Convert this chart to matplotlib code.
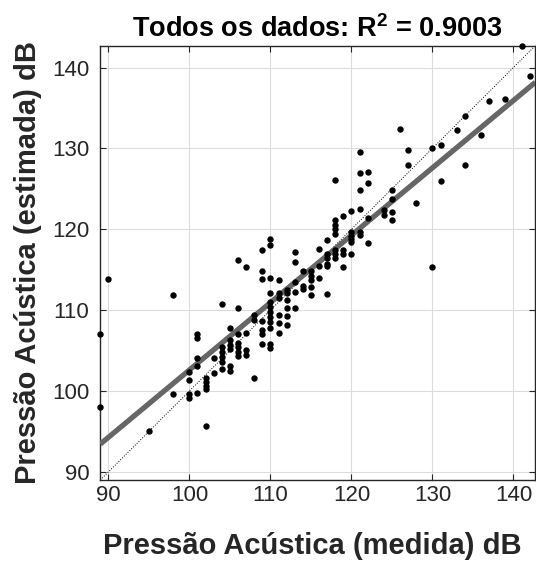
import matplotlib
matplotlib.use("Agg")
import matplotlib.pyplot as plt
from matplotlib import font_manager as fm
import numpy as np

fm.fontManager.ttflist = [f for f in fm.fontManager.ttflist if 'Narrow' not in f.fname]

plt.rcParams['font.family'] = ['Liberation Sans', 'DejaVu Sans']
plt.rcParams['mathtext.fontset'] = 'custom'
plt.rcParams['mathtext.rm'] = 'Liberation Sans'
plt.rcParams['mathtext.bf'] = 'Liberation Sans:bold'

# measured (x) and estimated (y) acoustic pressure, dB
x_medida = [89, 89, 90, 95, 98, 98,
            100, 100, 100, 100,
            101, 101, 101, 101, 101,
            102, 102, 102, 102, 102,
            103, 103,
            104, 104, 104, 104, 104, 104,
            105, 105, 105, 105, 105, 105,
            106, 106, 106, 106, 106, 106, 106,
            107, 107, 107, 107,
            108, 108, 108,
            109, 109, 109, 109, 109, 109, 109,
            110, 110, 110, 110, 110, 110, 110, 110, 110, 110, 110, 110,
            111, 111, 111, 111, 111, 111,
            112, 112, 112, 112, 112, 112,
            113, 113, 113, 113, 113,
            114, 114, 114,
            115, 115, 115, 115, 115,
            116, 116, 116,
            117, 117, 117, 117, 117, 117,
            118, 118, 118, 118, 118, 118, 118, 118,
            119, 119, 119, 119,
            120, 120, 120, 120, 120, 120,
            121, 121, 121, 121, 121, 121,
            122, 122, 122, 122,
            124, 124,
            125, 125, 125, 125,
            126, 127, 127, 128, 130, 130, 131, 131,
            133, 134, 134, 136, 137, 139, 141, 142]
y_estimada = [107.0, 98.0, 113.9, 95.1, 111.85, 99.6,
              102.3, 101.4, 99.6, 99.1,
              107.0, 106.5, 104.1, 103.1, 99.75,
              101.6, 101.1, 100.6, 100.2, 95.7,
              104.1, 102.2,
              110.7, 105.4, 104.8, 104.2, 103.6, 102.75,
              107.85, 106.25, 105.7, 105.2, 103.1, 102.5,
              116.2, 110.3, 107.0, 105.9, 105.4, 104.8, 104.3,
              115.3, 107.2, 105.1, 104.5,
              109.4, 108.8, 101.65,
              117.4, 114.8, 113.9, 108.6, 107.6, 107.1, 105.85,
              118.75, 118.0, 114.0, 112.1, 111.0, 110.4, 109.75, 109.15, 108.5, 107.85, 105.85, 105.3,
              113.7, 112.1, 111.5, 109.4, 108.4, 107.2,
              112.5, 112.1, 111.3, 110.3, 109.3, 108.2,
              117.2, 116.0, 113.5, 112.3, 110.3,
              114.9, 113.0, 112.6,
              114.8, 114.2, 113.7, 112.9, 111.9,
              117.5, 115.4, 113.95,
              118.7, 117.0, 116.4, 115.7, 115.4, 111.95,
              126.1, 121.1, 120.5, 120.0, 119.4, 117.4, 116.9, 116.4,
              121.6, 117.4, 117.0, 115.3,
              122.3, 119.7, 119.2, 118.8, 118.4, 117.0,
              129.5, 127.0, 124.9, 122.5, 119.6, 119.3,
              127.1, 125.7, 121.4, 118.3,
              122.4, 121.8,
              124.8, 123.7, 122.1, 121.2,
              132.4, 129.8, 128.0, 123.2, 130.0, 115.3, 130.4, 126.0,
              132.3, 134.0, 128.0, 131.6, 135.9, 136.1, 142.7, 138.9]

# linear fit
fit_slope = 0.833
fit_intercept = 19.3
r2 = 0.9003

axis_limits = [89, 142.7]
tick_values = [90, 100, 110, 120, 130, 140]

fig = plt.figure(figsize=(5.36, 5.61), dpi=100)
ax = fig.add_axes([0.1871, 0.1444, 0.8116, 0.7742])

lims = np.array(axis_limits)
ax.plot(lims, lims, linestyle=':', color='black', linewidth=0.7, zorder=2)
ax.plot(lims, fit_slope * lims + fit_intercept, color='#666666', linewidth=3.8,
        solid_capstyle='butt', zorder=3)
ax.plot(x_medida, y_estimada, linestyle='none', marker='o', markersize=4.6,
        color='black', markeredgewidth=0, clip_on=False, zorder=4)

ax.set_xlim(axis_limits)
ax.set_ylim(axis_limits)
ax.set_xticks(tick_values)
ax.set_yticks(tick_values)
ax.grid(True, color='#dcdcdc', linewidth=0.8, zorder=0)
ax.set_axisbelow(True)

ax.tick_params(direction='in', length=4, width=0.8, color='#262626',
               labelcolor='#262626', labelsize=16, top=True, right=True)
ax.tick_params(axis='x', pad=3.5)
ax.tick_params(axis='y', pad=8)
for s in ax.spines.values():
    s.set_color('#262626')
    s.set_linewidth(1.0)

ax.set_title(r'Todos os dados: R$^\mathbf{2}$ = ' + f'{r2:.4f}', fontsize=19.5,
             fontweight='bold', pad=6, color='black')
ax.set_xlabel('Pressão Acústica (medida) dB', fontsize=21, fontweight='bold',
              color='#262626', labelpad=19)
ax.xaxis.label.set_x(0.487)
ax.set_ylabel('Pressão Acústica (estimada) dB', fontsize=21, fontweight='bold',
              color='#262626', labelpad=7)

fig.savefig('out.png', dpi=100)
